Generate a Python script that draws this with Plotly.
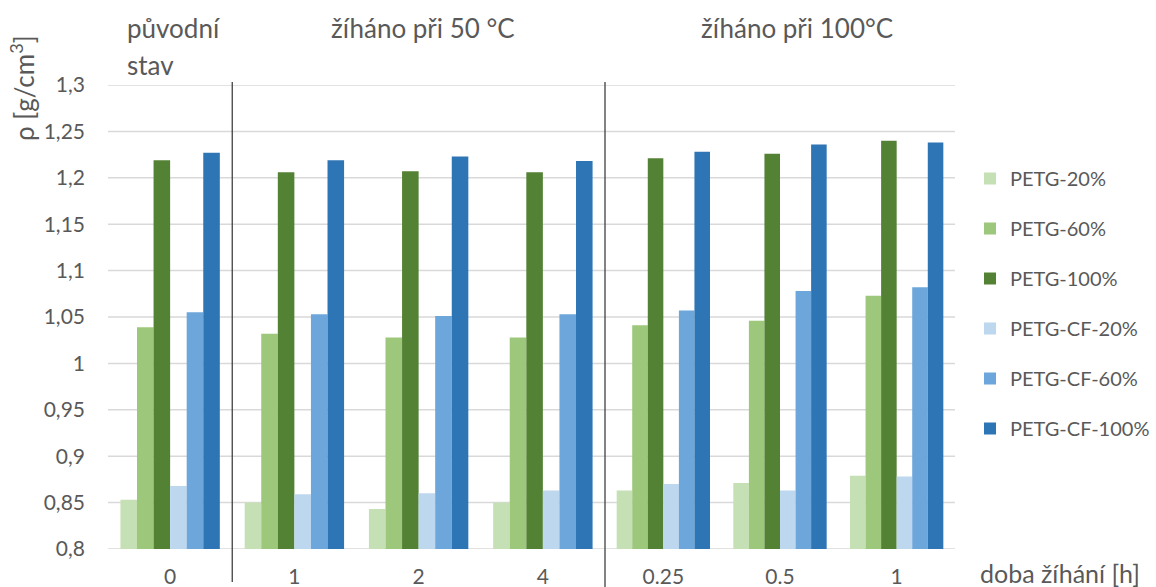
import plotly.graph_objects as go

categories = ["0", "1", "2", "4", "0.25", "0.5", "1"]
n_left = 4  # categories belonging to the "původní stav" + 50 °C part

series_names = ["PETG-20%", "PETG-60%", "PETG-100%", "PETG-CF-20%", "PETG-CF-60%", "PETG-CF-100%"]
petg_20 = [0.853, 0.850, 0.843, 0.850, 0.863, 0.871, 0.879]
petg_60 = [1.039, 1.032, 1.028, 1.028, 1.041, 1.046, 1.073]
petg_100 = [1.219, 1.206, 1.207, 1.206, 1.221, 1.226, 1.240]
petg_cf_20 = [0.868, 0.859, 0.860, 0.863, 0.870, 0.863, 0.878]
petg_cf_60 = [1.055, 1.053, 1.051, 1.053, 1.057, 1.078, 1.082]
petg_cf_100 = [1.227, 1.219, 1.223, 1.218, 1.228, 1.236, 1.238]

colors = ["#C5E0B4", "#9DC77A", "#548235", "#BDD7EE", "#6CA6DA", "#2E75B6"]
all_series = [petg_20, petg_60, petg_100, petg_cf_20, petg_cf_60, petg_cf_100]

FONT = "Lato"
GREY = "#595959"

W, H = 1156, 587
L, R, T, B = 108, 4, 85, 38
plot_w = W - L - R          # full paper width (legend lives inside it)
plot_h = H - T - B
left_end = (605 - L) / plot_w   # end of first group of categories
right_end = (955 - L) / plot_w  # end of second group of categories


def px(xp):
    return (xp - L) / plot_w


def py(yp):
    return 1 - (yp - T) / plot_h


fig = go.Figure()
for name, vals, col in zip(series_names, all_series, colors):
    fig.add_trace(go.Bar(
        x=categories[:n_left], y=vals[:n_left], name=name,
        marker=dict(color=col, line=dict(width=0)),
        xaxis="x", yaxis="y", legendgroup=name, showlegend=True,
    ))
    fig.add_trace(go.Bar(
        x=categories[n_left:], y=vals[n_left:], name=name,
        marker=dict(color=col, line=dict(width=0)),
        xaxis="x2", yaxis="y", legendgroup=name, showlegend=False,
    ))

yticks = [round(0.8 + 0.05 * i, 2) for i in range(11)]
yticktext = [("%g" % v).replace(".", ",") for v in yticks]

axis_common = dict(
    type="category", showgrid=False, zeroline=False, showline=False, ticks="",
    automargin=False,
    tickfont=dict(family=FONT, size=21, color=GREY), ticklabelstandoff=13,
)

fig.update_layout(
    width=W, height=H,
    margin=dict(l=L, r=R, t=T, b=B, pad=0, autoexpand=False),
    paper_bgcolor="white", plot_bgcolor="rgba(0,0,0,0)",
    barmode="group", bargap=0.2, bargroupgap=0,
    font=dict(family=FONT, color=GREY),
    xaxis=dict(domain=[0, left_end], anchor="y", **axis_common),
    xaxis2=dict(domain=[left_end, right_end], anchor="y", **axis_common),
    yaxis=dict(
        range=[0.8, 1.3], tickvals=yticks, ticktext=yticktext,
        showgrid=False, zeroline=False, showline=False, ticks="",
        automargin=False,
        tickfont=dict(family=FONT, size=21, color=GREY), ticklabelstandoff=22,
        anchor="x",
    ),
    legend=dict(
        x=px(970), xanchor="left", y=py(159), yanchor="top",
        font=dict(family=FONT, size=20, color=GREY),
        tracegroupgap=21, itemwidth=30, bgcolor="rgba(0,0,0,0)",
    ),
    showlegend=True,
)

# horizontal gridlines spanning only the bar area (both category groups)
for v in yticks:
    fig.add_shape(type="line", xref="paper", yref="y", x0=0, x1=right_end, y0=v, y1=v,
                  line=dict(color="#D9D9D9", width=1.5), layer="below")

annotations = [
    dict(text="původní", x=125, y=28, xanchor="left", size=26),
    dict(text="stav", x=125, y=65, xanchor="left", size=26),
    dict(text="žíháno při 50 °C", x=423, y=28, xanchor="center", size=26),
    dict(text="žíháno při 100°C", x=797, y=28, xanchor="center", size=26),
    dict(text="doba žíhání [h]", x=978, y=573, xanchor="left", size=25),
]
for a in annotations:
    fig.add_annotation(
        text=a["text"], xref="paper", yref="paper",
        x=px(a["x"]), y=py(a["y"]),
        xanchor=a["xanchor"], yanchor="middle", showarrow=False,
        font=dict(family=FONT, size=a["size"], color=GREY),
    )
fig.add_annotation(
    text="ρ [g/cm<sup>3</sup>]", xref="paper", yref="paper",
    x=px(22), y=py(88),
    xanchor="center", yanchor="middle", textangle=-90, showarrow=False,
    font=dict(family=FONT, size=26, color=GREY),
)

fig.add_shape(type="line", xref="x", yref="paper", x0=0.5, x1=0.5,
              y0=py(82), y1=py(582),
              line=dict(color="#404040", width=1.3))
fig.add_shape(type="line", xref="paper", yref="paper", x0=left_end, x1=left_end,
              y0=py(82), y1=py(600),
              line=dict(color="#404040", width=1.3))

fig.write_html(
    "out.html",
    config={"responsive": False, "displayModeBar": False},
    post_script="document.body.style.margin='0';document.body.style.overflow='hidden';",
)
